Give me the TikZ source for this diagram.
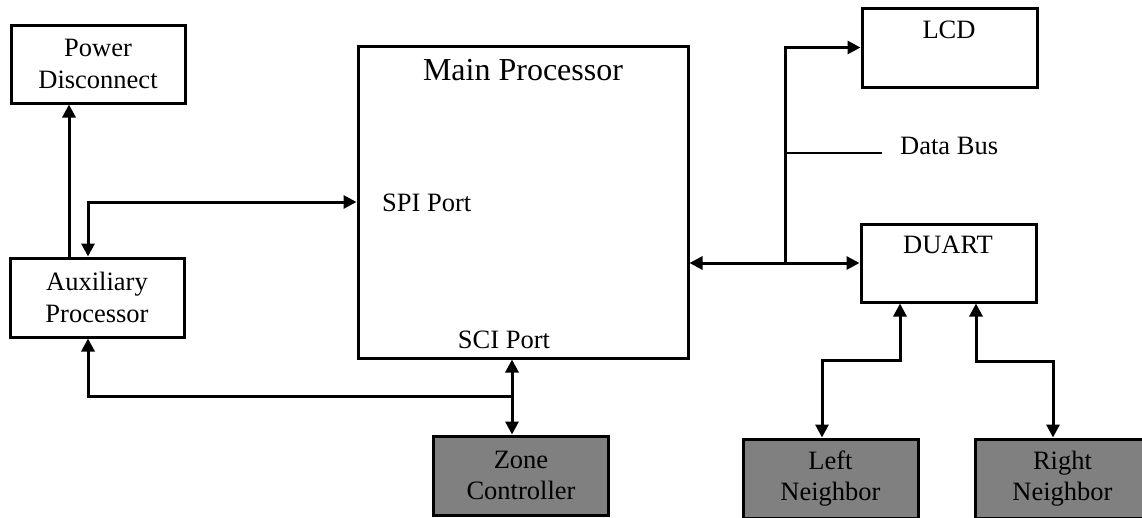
\documentclass[tikz,border=0pt]{standalone}
\usepackage{fontspec}
\setmainfont{Liberation Serif}
\usetikzlibrary{arrows.meta}
\tikzset{
  blk/.style={draw=black, line width=3pt, fill=white, minimum width=#1, inner sep=0pt, minimum height=79pt},
  blk/.default=175pt,
  shaded/.style={blk, fill=black!50},
  txt/.style={font=\fontsize{26.5}{31.5}\selectfont, align=center, inner sep=0pt},
  wire/.style={line width=3pt, >={Triangle[length=13pt,width=13pt]}},
  thin wire/.style={line width=2.6pt}
}
\begin{document}
\begin{tikzpicture}[x=1pt,y=-1pt]
\clip (0,0) rectangle (1142,517);
\fill[white] (0,0) rectangle (1142,517);
% blocks
\node[blk=174pt, minimum height=78pt] (pd) at (98,64) {};
\node[txt] at (pd.center) {Power\\Disconnect};
\node[blk=174pt] (aux) at (97,297.5) {};
\node[txt] at (aux.center) {Auxiliary\\Processor};
\node[blk=330pt, minimum height=312pt] (main) at (523,202) {};
\node[txt, font=\fontsize{32}{36}\selectfont] (maint) at (523,70) {Main Processor};
\node[txt, anchor=west] (spi) at (382,203) {SPI Port};
\node[txt] (sci) at (504,340) {SCI Port};
\node[blk] (lcd) at (949.5,47.5) {};
\node[txt] (lcdt) at (949,30) {LCD};
\node[blk, minimum height=78pt] (duart) at (948.5,263) {};
\node[txt] (duartt) at (948,245) {DUART};
\node[txt, anchor=west] (db) at (900,146) {Data Bus};
\node[shaded=176pt] (zone) at (521,475.5) {};
\node[txt] at (zone.center) {Zone\\Controller};
\node[shaded] (left) at (830.5,478.5) {};
\node[txt] at (left.center) {Left\\Neighbor};
\node[shaded] (right) at (1062.5,478.5) {};
\node[txt] at (right.center) {Right\\Neighbor};
% helper coordinates
\coordinate (xa) at (69,0);
\coordinate (xb) at (88,0);
\coordinate (xs) at (512,0);
\coordinate (ya) at (0,396);
\coordinate (bus) at (785,262);
\coordinate (dbend) at (882,153);
\coordinate (xl) at (900,0);
\coordinate (xl2) at (822,360);
\coordinate (xr) at (976,0);
\coordinate (xr2) at (1053,361);
% connectors
\draw[wire,->] (aux.north -| xa) -- (pd.south -| xa);
\draw[wire,<->] (aux.north -| xb) |- (main.west);
\draw[wire,<-] (aux.south -| xb) |- (xs |- ya);
\draw[wire,<->] (main.south -| xs) -- (zone.north -| xs);
\draw[wire,<->] (main.east |- duart.west) -- (duart.west);
\draw[wire,->] (bus) |- (lcd.west);
\draw[thin wire] (bus |- dbend) -- (dbend);
\draw[wire,<->] (duart.south -| xl) -- (xl |- xl2) -| (left.north -| xl2);
\draw[wire,<->] (duart.south -| xr) -- (xr |- xr2) -| (right.north -| xr2);
\end{tikzpicture}
\end{document}
